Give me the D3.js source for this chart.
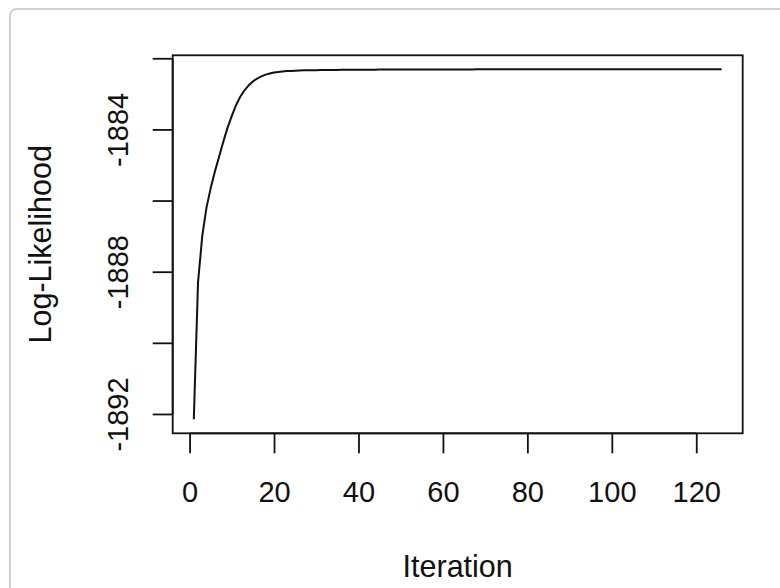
<!DOCTYPE html>
<html>
<head>
<meta charset="utf-8">
<script src="https://cdn.jsdelivr.net/npm/d3@7"></script>
<style>
  html, body { margin: 0; padding: 0; background: #fff; }
  svg { display: block; }
  text { font-family: "Liberation Sans", Arial, sans-serif; fill: #111; }
</style>
</head>
<body>
<script>
// Log-likelihood trace of an iterative fit, one value per iteration (starting at 1)
const logLik = [
  -1892.15, -1888.30, -1887.00, -1886.20, -1885.65, -1885.18, -1884.76, -1884.34, -1883.95, -1883.62,
  -1883.32, -1883.08, -1882.90, -1882.76, -1882.65, -1882.57, -1882.51, -1882.46, -1882.43, -1882.40,
  -1882.385, -1882.370, -1882.360, -1882.355, -1882.350, -1882.345, -1882.340, -1882.338, -1882.336, -1882.334,
  -1882.332, -1882.330, -1882.329, -1882.328, -1882.327, -1882.326, -1882.325, -1882.324, -1882.323, -1882.322,
  -1882.321, -1882.321, -1882.320, -1882.320, -1882.319, -1882.319, -1882.318, -1882.318, -1882.317, -1882.317,
  -1882.317, -1882.316, -1882.316, -1882.316, -1882.315, -1882.315, -1882.315, -1882.315, -1882.314, -1882.314,
  -1882.314, -1882.314, -1882.313, -1882.313, -1882.313, -1882.313, -1882.313, -1882.312, -1882.312, -1882.312,
  -1882.312, -1882.312, -1882.312, -1882.311, -1882.311, -1882.311, -1882.311, -1882.311, -1882.311, -1882.311,
  -1882.311, -1882.311, -1882.310, -1882.310, -1882.310, -1882.310, -1882.310, -1882.310, -1882.310, -1882.310,
  -1882.310, -1882.310, -1882.310, -1882.310, -1882.310, -1882.310, -1882.310, -1882.310, -1882.310, -1882.310,
  -1882.310, -1882.310, -1882.310, -1882.310, -1882.310, -1882.310, -1882.310, -1882.310, -1882.310, -1882.310,
  -1882.310, -1882.310, -1882.310, -1882.310, -1882.310, -1882.310, -1882.310, -1882.310, -1882.310, -1882.310,
  -1882.310, -1882.310, -1882.310, -1882.310, -1882.310, -1882.310
];
const iterations = logLik.map((_, i) => i + 1);

const xTicks = [0, 20, 40, 60, 80, 100, 120];
const xTickLabels = ["0", "20", "40", "60", "80", "100", "120"];
const yTicks = [-1892, -1890, -1888, -1886, -1884, -1882];
const yTickLabels = ["-1892", "", "-1888", "", "-1884", ""];

const xTitle = "Iteration";
const yTitle = "Log-Likelihood";

const W = 780, H = 588;
const box = { left: 172.7, right: 742.7, top: 55.3, bottom: 433.3 };
const tickFontPx = 29;
const titleFontPx = 30.5;
const ink = "#111";

// pad each data range by 4% on both sides
function padded(ext) {
  const d = (ext[1] - ext[0]) * 0.04;
  return [ext[0] - d, ext[1] + d];
}

const x = d3.scaleLinear().domain(padded(d3.extent(iterations))).range([box.left, box.right]);
const y = d3.scaleLinear().domain(padded(d3.extent(logLik))).range([box.bottom, box.top]);

const svg = d3.select("body").append("svg").attr("width", W).attr("height", H);

// card outline
svg.append("rect")
  .attr("x", 10).attr("y", 9).attr("width", 800).attr("height", 620)
  .attr("rx", 6).attr("ry", 6)
  .attr("fill", "#fff").attr("stroke", "#d2d2d2").attr("stroke-width", 2);

// the curve
const line = d3.line().x((d, i) => x(iterations[i])).y(d => y(d));
svg.append("path")
  .datum(logLik)
  .attr("d", line)
  .attr("fill", "none")
  .attr("stroke", ink)
  .attr("stroke-width", 2)
  .attr("stroke-linejoin", "round");

// plot frame
svg.append("rect")
  .attr("x", box.left).attr("y", box.top)
  .attr("width", box.right - box.left).attr("height", box.bottom - box.top)
  .attr("fill", "none").attr("stroke", ink).attr("stroke-width", 1.8);

// bottom axis
const xAxis = d3.axisBottom(x)
  .tickValues(xTicks)
  .tickSize(20)
  .tickSizeOuter(0)
  .tickFormat((d, i) => xTickLabels[i]);
const gx = svg.append("g").attr("transform", `translate(0,${box.bottom})`).call(xAxis);
gx.select(".domain").remove();
gx.append("line")
  .attr("x1", x(xTicks[0])).attr("x2", x(xTicks[xTicks.length - 1]))
  .attr("stroke", ink).attr("stroke-width", 1.8);
gx.selectAll(".tick line").attr("stroke", ink).attr("stroke-width", 1.8);
gx.selectAll(".tick text")
  .attr("y", 68.4).attr("dy", null)
  .attr("fill", ink)
  .style("font-size", tickFontPx + "px")
  .style("font-family", '"Liberation Sans", Arial, sans-serif');

// left axis
const yAxis = d3.axisLeft(y)
  .tickValues(yTicks)
  .tickSize(20)
  .tickSizeOuter(0)
  .tickFormat((d, i) => yTickLabels[i]);
const gy = svg.append("g").attr("transform", `translate(${box.left},0)`).call(yAxis);
gy.select(".domain").remove();
gy.append("line")
  .attr("y1", y(yTicks[0])).attr("y2", y(yTicks[yTicks.length - 1]))
  .attr("stroke", ink).attr("stroke-width", 1.8);
gy.selectAll(".tick line").attr("stroke", ink).attr("stroke-width", 1.8);
gy.selectAll(".tick text")
  .attr("x", 0).attr("y", -45).attr("dy", null)
  .attr("transform", "rotate(-90)")
  .attr("text-anchor", "middle")
  .attr("fill", ink)
  .style("font-size", tickFontPx + "px")
  .style("font-family", '"Liberation Sans", Arial, sans-serif');

// axis titles
svg.append("text")
  .attr("x", (box.left + box.right) / 2)
  .attr("y", 577.3)
  .attr("text-anchor", "middle")
  .style("font-size", titleFontPx + "px")
  .text(xTitle);

svg.append("text")
  .attr("transform", `translate(51,${(box.top + box.bottom) / 2}) rotate(-90)`)
  .attr("text-anchor", "middle")
  .style("font-size", titleFontPx + "px")
  .text(yTitle);
</script>
</body>
</html>
